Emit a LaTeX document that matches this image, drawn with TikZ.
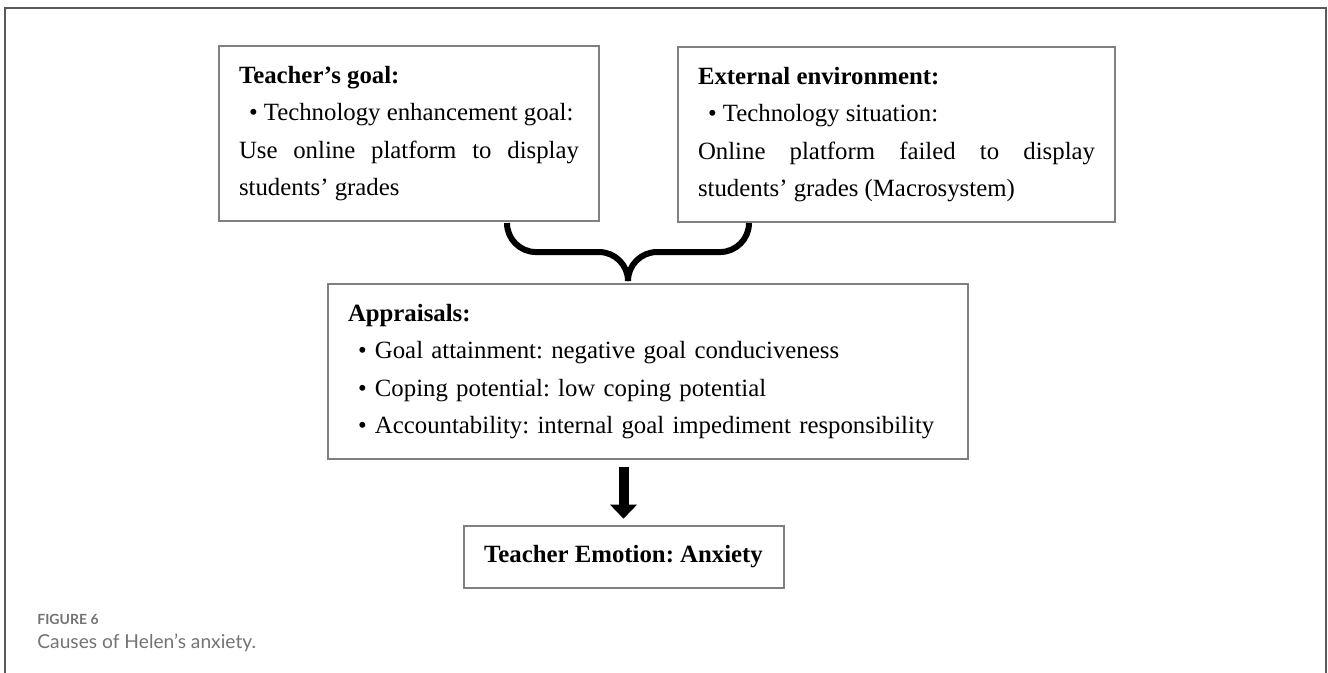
\documentclass[tikz,border=0pt]{standalone}
\usepackage{fontspec}
\setmainfont{Liberation Serif}
\newfontfamily\capfont{Lato}
\usetikzlibrary{arrows.meta,calc}
\newcommand{\itemdot}{\hspace*{5pt}\textbullet\ }

\begin{document}
\frenchspacing
\hyphenpenalty=10000\relax
\exhyphenpenalty=10000\relax
\begin{tikzpicture}[x=1pt,y=1pt,
        box/.style={draw=black!50,line width=1pt,inner xsep=10pt,inner ysep=10pt,align=justify,font=\fontsize{12.4}{18.75}\selectfont},
        bigarrow/.style={line width=5pt,-{Triangle[width=13pt,length=7pt]}},
        bracket/.style={line width=3pt,rounded corners=14.5pt}]
    \useasboundingbox (0,0) rectangle (664,336.5);
    \draw[black!65,line width=1pt] (2.5,-1) -- (2.5,332.5) -- (663,332.5) -- (663,-1);
    % the two causes
    \node[box,anchor=north west,text width=170pt] (tgoal) at (109,314) {{\bfseries Teacher’s goal:}\\
        \itemdot Technology enhancement goal:\\
        Use online platform to display students’ grades};
    \node[box,anchor=north west,text width=198.5pt] (extenv) at (338.5,313.5) {{\bfseries External environment:}\\
        \itemdot Technology situation:\\
        Online platform failed to display students’ grades (Macrosystem)};
    % appraisals and emotion
    \node[box,anchor=north west,text width=300pt,align=left] (appr) at (163.5,195) {{\bfseries Appraisals:}\\
        \itemdot Goal attainment: negative goal conduciveness\\
        \itemdot Coping potential: low coping potential\\
        \itemdot Accountability: internal goal impediment responsibility};
    \node[box,align=center,minimum width=160pt,minimum height=29pt,font=\fontsize{12.4}{18.75}\selectfont\bfseries] (emo) at (311.75,58) {Teacher Emotion: Anxiety};
    % brace
    \coordinate (bl) at ([xshift=49pt,yshift=-0.5pt]tgoal.south);
    \coordinate (br) at ([xshift=-73.75pt]extenv.south |- bl);
    \coordinate (bmid) at ($(bl)!0.5!(br)+(0,-14.5)$);
    \coordinate (btip) at ($(bl)!0.5!(br)+(0,-29)$);
    \draw[bracket] (bl) |- (bmid) -- (btip);
    \draw[bracket] (br) |- (bmid) -- (btip);
    \draw[bigarrow] ([yshift=-3.5pt]appr.south -| emo.north) -- ([yshift=3pt]emo.north);
    % caption
    \node[anchor=base west,inner sep=0pt,text=black!55,font=\capfont\bfseries\fontsize{7}{8}\selectfont] (fignum) at (18.5,24) {FIGURE 6};
    \node[anchor=base west,inner sep=0pt,text=black!55,font=\capfont\fontsize{9.6}{11}\selectfont] (figcap) at (18.5,12) {Causes of Helen’s anxiety.};
\end{tikzpicture}
\end{document}
